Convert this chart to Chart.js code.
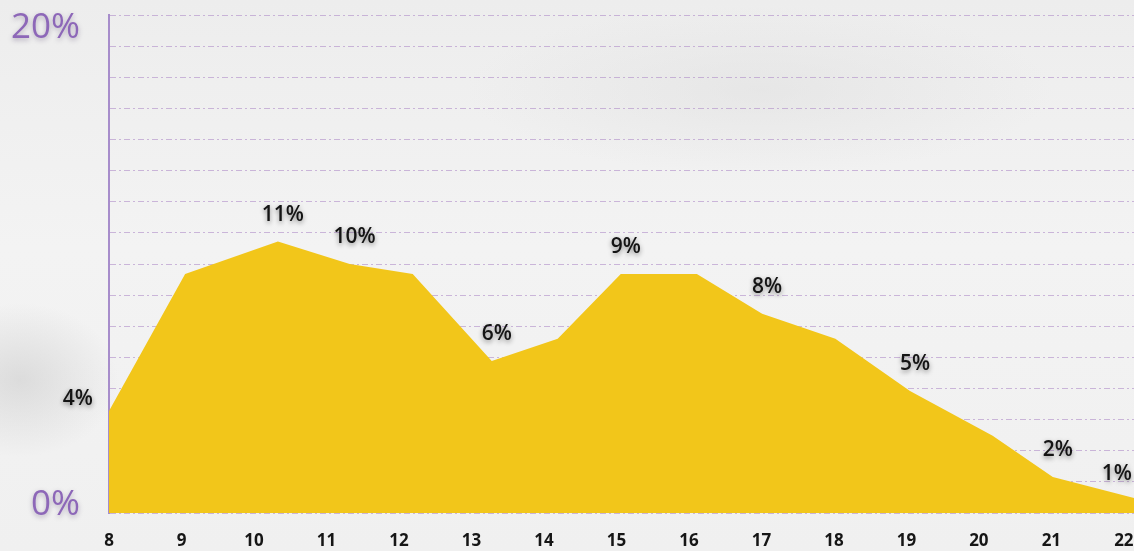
<!DOCTYPE html>
<html>
<head>
<meta charset="utf-8">
<script src="https://cdn.jsdelivr.net/npm/chart.js@4/dist/chart.umd.min.js"></script>
<style>
    html, body { margin: 0; padding: 0; }
    body {
        width: 1134px; height: 551px; overflow: hidden;
        background:
            radial-gradient(ellipse 140px 110px at 20px 380px, rgba(205,205,205,0.6), rgba(205,205,205,0) 70%),
            radial-gradient(ellipse 420px 120px at 760px 90px, rgba(220,220,220,0.45), rgba(220,220,220,0) 70%),
            linear-gradient(180deg, #ededed 0%, #f3f3f3 45%, #f0f0f0 100%);
    }
    #wrap { position: relative; width: 1134px; height: 551px; }
</style>
</head>
<body>
<div id="wrap"><canvas id="hourChart"></canvas></div>
<script>
// hour of each vertex
var hours = [8, 9.05, 10.33, 11.32, 12.19, 13.28, 14.19, 15.06, 16.11, 17.01, 18.02, 19.05, 20.19, 21.02, 22.14]
var shares = [4.1, 9.6, 10.9, 10.0, 9.6, 6.1, 7.0, 9.6, 9.6, 8.0, 7.0, 4.9, 3.1, 1.45, 0.6]
var shareLabels = ['4%', '', '11%', '10%', '', '6%', '', '9%', '', '8%', '', '5%', '', '2%', '1%']
var hourTicks = [8, 9, 10, 11, 12, 13, 14, 15, 16, 17, 18, 19, 20, 21, 22]
var yAxisMarks = [0, 20]

var purple = '#8d67b8'

//Draws the shadowed labels next to some of the vertices
var pointLabels = {
    id: 'pointLabels',
    afterDatasetsDraw(chart) {
        let ctx = chart.ctx
        let meta = chart.getDatasetMeta(0)
        ctx.save()
        ctx.font = '600 21px "Open Sans", sans-serif'
        ctx.fillStyle = '#141414'
        ctx.textBaseline = 'middle'
        ctx.shadowColor = 'rgba(0,0,0,0.45)'
        ctx.shadowBlur = 5
        ctx.shadowOffsetY = 2
        meta.data.forEach((pt, i) => {
            let text = shareLabels[i]
            if (!text) return
            if (i == 0) {
                ctx.textAlign = 'right'
                ctx.fillText(text, pt.x - 16, pt.y - 12)
            } else if (i == meta.data.length - 1) {
                ctx.textAlign = 'right'
                ctx.fillText(text, chart.width - 2, pt.y - 24)
            } else {
                ctx.textAlign = 'center'
                ctx.fillText(text, pt.x + 5, pt.y - 27)
            }
        })
        ctx.restore()
    }
}

//Big purple 0% / 20% marks on the left
var axisMarks = {
    id: 'axisMarks',
    afterDraw(chart) {
        let ctx = chart.ctx
        let y = chart.scales.y
        ctx.save()
        ctx.font = '35px "Open Sans", sans-serif'
        ctx.fillStyle = purple
        ctx.textAlign = 'right'
        ctx.textBaseline = 'middle'
        ctx.shadowColor = 'rgba(60,40,90,0.35)'
        ctx.shadowBlur = 5
        ctx.shadowOffsetY = 2
        yAxisMarks.forEach((v) => {
            let py = y.getPixelForValue(v) + (v == 0 ? -8 : 13)
            ctx.fillText(v + '%', 80, py)
        })
        ctx.restore()
    }
}

//Soft shadow under the yellow area
var areaShadow = {
    id: 'areaShadow',
    beforeDatasetDraw(chart) {
        chart.ctx.save()
        chart.ctx.shadowColor = 'rgba(0,0,0,0.5)'
        chart.ctx.shadowBlur = 7
        chart.ctx.shadowOffsetY = 4
    },
    afterDatasetDraw(chart) {
        chart.ctx.restore()
    }
}

new Chart(document.getElementById('hourChart'), {
    type: 'line',
    data: {
        datasets: [{
            data: hours.map((h, i) => ({ x: h, y: shares[i] })),
            fill: 'origin',
            backgroundColor: '#f2c61a',
            borderWidth: 0,
            borderColor: 'rgba(0,0,0,0)',
            pointRadius: 0,
            tension: 0,
            clip: false
        }]
    },
    options: {
        responsive: true,
        maintainAspectRatio: false,
        animation: false,
        layout: { padding: { top: 15, right: 0, left: 0, bottom: 0 } },
        plugins: {
            legend: { display: false },
            tooltip: { enabled: false }
        },
        scales: {
            x: {
                type: 'linear',
                min: 8,
                max: 22.14,
                afterBuildTicks: (scale) => {
                    scale.ticks = hourTicks.map((h) => ({ value: h }))
                },
                afterFit: (scale) => {
                    scale.height = 38
                    scale.paddingLeft = 0
                    scale.paddingRight = 0
                },
                grid: { display: false },
                border: { display: false },
                ticks: {
                    color: '#161616',
                    font: { family: '"Open Sans", sans-serif', size: 17, weight: 'bold' },
                    padding: 10,
                    maxRotation: 0,
                    autoSkip: false,
                    callback: (v) => v
                }
            },
            y: {
                min: 0,
                max: 20,
                afterFit: (scale) => { scale.width = 109 },
                ticks: { stepSize: 1.25, display: false },
                grid: {
                    color: 'rgba(175,140,200,0.6)',
                    lineWidth: 1,
                    drawTicks: false
                },
                border: { display: true, color: '#a78dcb', width: 2, dash: [6, 3, 2, 3] }
            }
        }
    },
    plugins: [areaShadow, pointLabels, axisMarks]
})
</script>
</body>
</html>
